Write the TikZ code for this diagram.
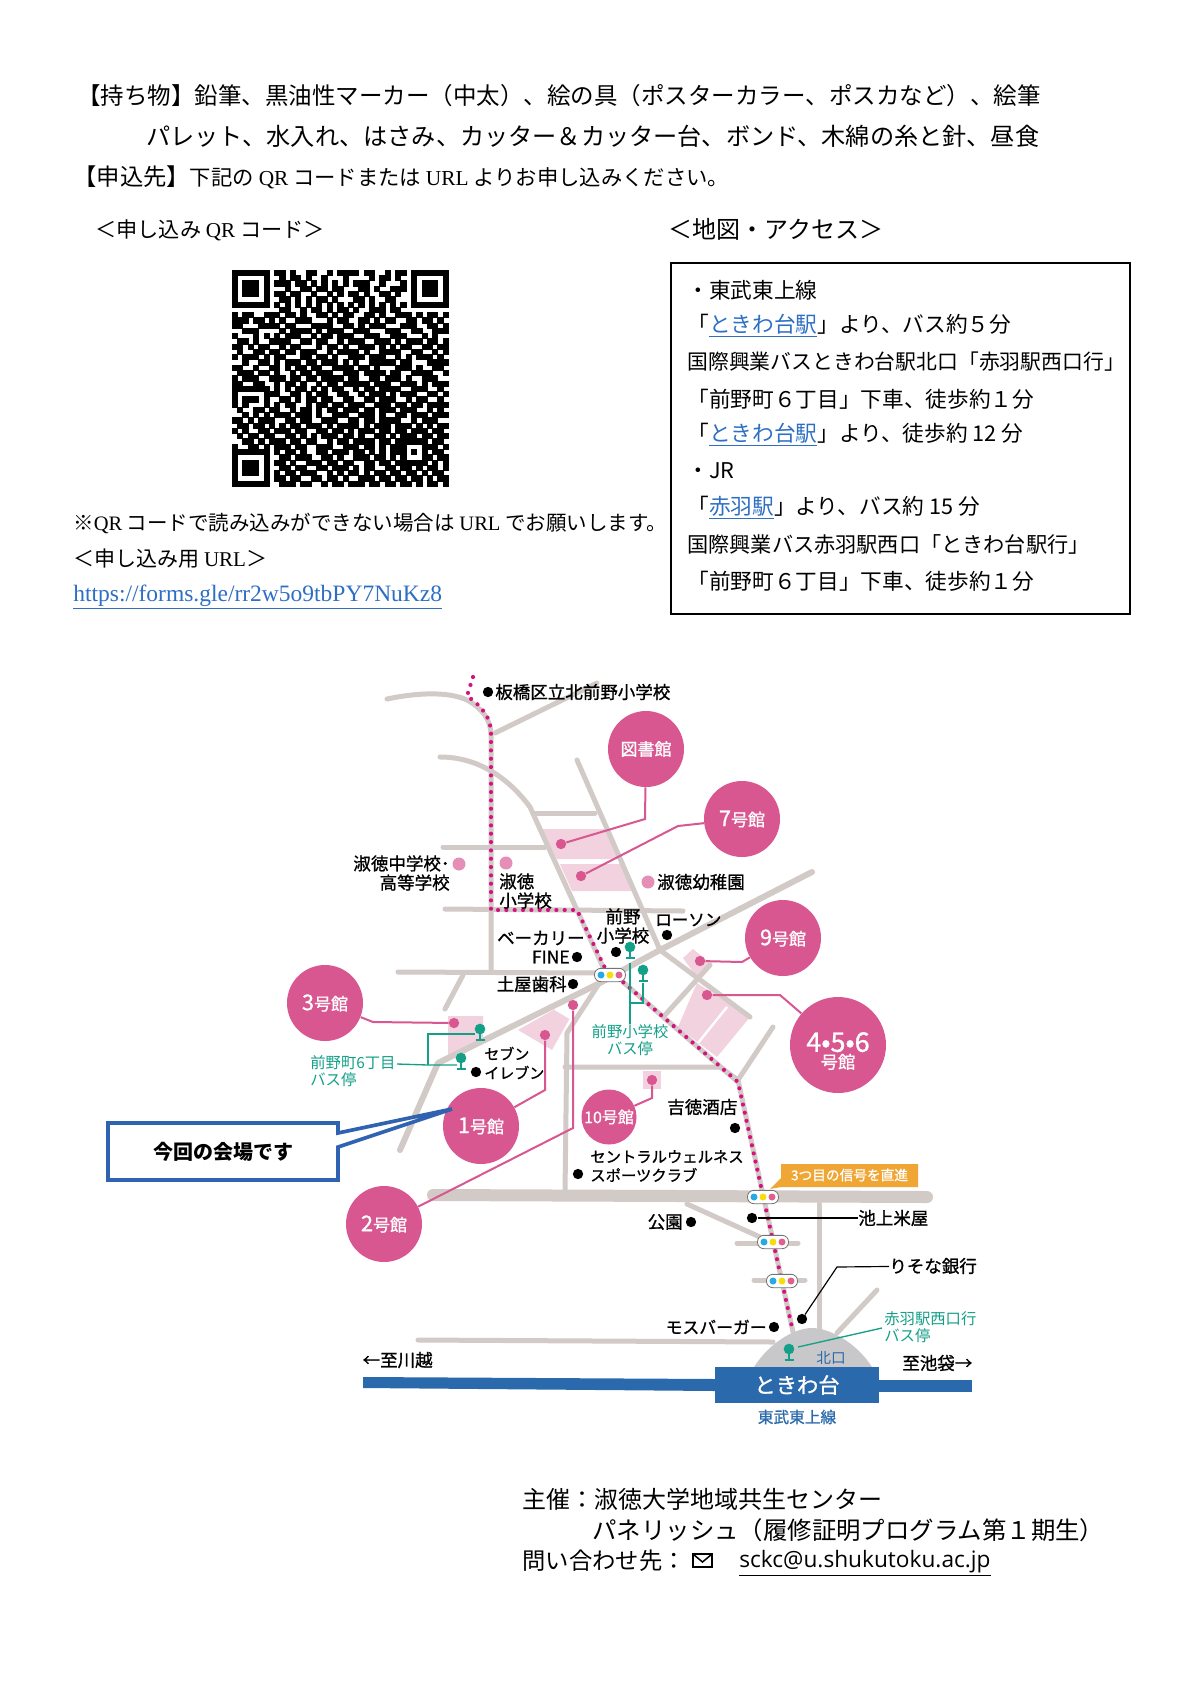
\documentclass[tikz,border=0pt]{standalone}
\usepackage{fontspec}
\setmainfont{Noto Sans CJK JP}
\newfontfamily\ser{Liberation Serif}
\newfontfamily\mailfont{Open Sans}
\newfontfamily\medfont[FakeBold=1]{Noto Sans CJK JP}
\definecolor{roadgrey}{HTML}{D2CAC6}
\definecolor{bldgpink}{HTML}{D95790}
\definecolor{blockpink}{HTML}{F3D2E0}
\definecolor{softpink}{HTML}{E58FB7}
\definecolor{routepink}{HTML}{D5127F}
\definecolor{stopgreen}{HTML}{14A088}
\definecolor{railblue}{HTML}{2A69AC}
\definecolor{calloutblue}{HTML}{2F62B0}
\definecolor{linkblue}{HTML}{2E6FC4}
\definecolor{signote}{HTML}{EFA635}
\definecolor{statgrey}{HTML}{C8C8CA}
\definecolor{sigblue}{HTML}{27A9E1}
\definecolor{sigyellow}{HTML}{F7DC0F}
\definecolor{sigpink}{HTML}{E0608E}
\newcommand\linkword[1]{{\color{linkblue}\underline{#1}}}
\newcount\qrcol
\newcount\qrrow
\newcommand\qrline[1]{\qrcol=0 \qrgo#1.\advance\qrrow by 1 }
\def\qrgo#1{\ifx#1.\else\if#11\filldraw[line width=.1pt] (\the\qrcol,\the\qrrow) rectangle ++(1,1);\fi\advance\qrcol by 1 \expandafter\qrgo\fi}
\tikzset{
 bodytext/.style={anchor=west,inner sep=0pt},
 boxtext/.style={anchor=west,inner sep=0pt,font=\fontsize{13}{15}\selectfont},
 road/.style={draw=roadgrey,line width=3pt,line cap=round,line join=round},
 block/.style={fill=blockpink},
 bldg/.style={circle,fill=bldgpink,inner sep=0pt,minimum size=45.6pt,text=white,align=center,font=\medfont\fontsize{10.2}{11}\selectfont},
 bldgline/.style={draw=bldgpink,line width=1.2pt},
 pdot/.style={circle,fill=bldgpink,inner sep=0pt,minimum size=6.2pt},
 softdot/.style={circle,fill=softpink,inner sep=0pt,minimum size=7.8pt},
 bdot/.style={circle,fill=black,inner sep=0pt,minimum size=6.2pt},
 maplabel/.style={inner sep=0pt,align=left,font=\medfont\fontsize{10.5}{11.5}\selectfont},
 greenlabel/.style={inner sep=0pt,align=left,text=stopgreen,font=\fontsize{9.2}{10.4}\selectfont},
 stophead/.style={circle,fill=stopgreen,inner sep=0pt,minimum size=6.4pt},
 stopline/.style={draw=stopgreen,line width=.8pt},
 signalbox/.style={draw=black!55,fill=white,rounded corners=3.8pt,line width=.5pt,minimum width=18.6pt,minimum height=8pt,inner sep=0pt},
}
\begin{document}
\begin{tikzpicture}[x=0.6pt,y=-0.6pt]
\useasboundingbox (0,0) rectangle (1200,1697);
\fill[white] (0,0) rectangle (1200,1697);
\node (lbring) [bodytext,font=\fontsize{14.1}{17}\selectfont] at (77,96) {【持ち物】鉛筆、黒油性マーカー（中太）、絵の具（ポスターカラー、ポスカなど）、絵筆};
\node (lbring2) [bodytext,font=\fontsize{14.5}{17}\selectfont] at (146,136) {パレット、水入れ、はさみ、カッター＆カッター台、ボンド、木綿の糸と針、昼食};
\node (lapply) [bodytext,font=\fontsize{12.8}{15}\selectfont] at (73,177) {{\fontsize{14}{15}\selectfont 【申込先】}下記の {\ser QR} コードまたは {\ser URL} よりお申し込みください。};
\node (lqr) [bodytext,font=\fontsize{12.7}{15}\selectfont] at (95,230) {＜申し込み {\ser QR} コード＞};
\node (lmap) [bodytext,font=\fontsize{14.4}{17}\selectfont] at (668,229) {＜地図・アクセス＞};
\begin{scope}[shift={(232,270)},x=3.16pt,y=-3.16pt]
\qrrow=0
\qrline{1111111 0 1101001100 1011110110 01011 0 1111111}
\qrline{1000001 0 0101101001 0001000010 11010 0 1000001}
\qrline{1011101 0 1110110101 0101011100 10001 0 1011101}
\qrline{1011101 0 0010011011 0110001101 00111 0 1011101}
\qrline{1011101 0 1101100100 1010110100 11010 0 1011101}
\qrline{1000001 0 0110101011 0100011010 01100 0 1000001}
\qrline{1111111 0 1010101010 1010101010 10101 0 1111111}
\qrline{0000000 0 0110010110 1011010011 10110 0 0000000}
\qrline{1011001110 1101001101 0110011010 0111010110 1}
\qrline{1110110101 0011100010 1100110101 1001101101 0}
\qrline{1100011110 1100011110 0110101110 0011100110 1}
\qrline{0011100001 0111101011 1001110001 1100110011 1}
\qrline{1000101010 1110010110 1110011100 1110001010 0}
\qrline{0110100111 1001101100 1011100111 0101110110 1}
\qrline{1101011001 0110001011 0100111010 1011001101 1}
\qrline{0100110110 1101110010 1111010011 1100110010 1}
\qrline{1011101011 0001101101 0011101110 0101011101 0}
\qrline{0010011010 1110110111 0101001111 1011000111 1}
\qrline{1100100110 1011011001 1110110100 0111010011 0}
\qrline{0111011010 0101101110 0111011110 1100111100 1}
\qrline{1011100111 0110110111 1011001101 1101001110 0}
\qrline{1100110010 1101001011 0111110111 0011101011 1}
\qrline{1111111010 1011010101 1001011011 1100111001 0}
\qrline{1000001110 0110101100 1100101110 1011100110 1}
\qrline{1011101001 1010110110 0110011011 1001011001 0}
\qrline{1010001010 1100101101 1011100111 0110110111 1}
\qrline{0100110110 0101101011 0111011011 1011100101 0}
\qrline{0010101011 1011101001 1100111010 0110111011 1}
\qrline{1101011100 1101100111 0011011011 1100101110 0}
\qrline{0110110101 0110111010 1111010111 0111010101 1}
\qrline{1010011011 1011001101 1010111011 0110111011 0}
\qrline{0101101100 1101010111 0110100110 1011101101 1}
\qrline{0011010111 0110110010 1101111011 01 11111 0110}
\qrline{1001101011 1011001110 0111011010 11 10001 1101}
\qrline{1111111 0 101101001101110110101011 10101 0110}
\qrline{1000001 0 011011100110100111011010 10001 1011}
\qrline{1011101 0 110100111011011001101101 11111 0101}
\qrline{1011101 0 011011001101110101100110 110101101}
\qrline{1011101 0 101101110010101101011011 011010110}
\qrline{1000001 0 110110011011010011101101 101101011}
\qrline{1111111 0 011101100101101110110110 110101101}
\end{scope}
\node (lnote) [bodytext,font=\fontsize{12.3}{14}\selectfont] at (73,523) {※{\ser QR} コードで読み込みができない場合は {\ser URL} でお願いします。};
\node (lurl) [bodytext,font=\fontsize{12.6}{15}\selectfont] at (73,559) {＜申し込み用 {\ser URL}＞};
\node (lurl2) [bodytext,font=\ser\fontsize{14.1}{17}\selectfont] at (73,597) {\linkword{https://forms.gle/rr2w5o9tbPY7NuKz8}};
\draw[line width=1.2pt] (671,263) rectangle (1130,614);
\node (acc1) [boxtext] at (687,290) {・東武東上線};
\node (acc2) [boxtext] at (687,326) {「\linkword{ときわ台駅}」より、バス約５分};
\node (acc3) [boxtext,font=\fontsize{12.5}{15}\selectfont] at (687,362) {国際興業バスときわ台駅北口「赤羽駅西口行」};
\node (acc4) [boxtext] at (687,399) {「前野町６丁目」下車、徒歩約１分};
\node (acc5) [boxtext] at (687,435) {「\linkword{ときわ台駅}」より、徒歩約 12 分};
\node (acc6) [boxtext] at (687,471) {・JR};
\node (acc7) [boxtext] at (687,508) {「\linkword{赤羽駅}」より、バス約 15 分};
\node (acc8) [boxtext,font=\fontsize{12.7}{15}\selectfont] at (687,544) {国際興業バス赤羽駅西口「ときわ台駅行」};
\node (acc9) [boxtext] at (687,581) {「前野町６丁目」下車、徒歩約１分};
\fill[block] (542,829) -- (607,829) -- (618,859) -- (557,859) -- cycle;
\fill[block] (560,864) -- (620,864) -- (632,891) -- (572,891) -- cycle;
\fill[block] (683,958) -- (693,949) -- (710,963) -- (697,977) -- cycle;
\fill[block] (697,983) -- (750,1017) -- (717,1057) -- (678,1027) -- cycle;
\fill[block] (448,1016) -- (483,1016) -- (483,1037) -- (448,1058) -- cycle;
\fill[block] (518,1030) -- (555,1009) -- (570,1018) -- (552,1050) -- cycle;
\fill[block] (643,1071) -- (661,1071) -- (661,1089) -- (643,1089) -- cycle;
\draw[white,line width=1.4pt] (727,1007) -- (698,1043);
\draw[white,line width=1.2pt] (555,1009) -- (570,1018);
\draw[road] (387,699) .. controls (420,692) and (450,692) .. (467,700) .. controls (482,708) and (491,720) .. (491,735) -- (491,970);
\draw[road] (495,733) -- (597,683);
\draw[road] (440,757) .. controls (480,757) and (510,780) .. (530,807) -- (577,910) -- (603,967);
\draw[road] (577,760) -- (660,950) -- (750,1017);
\draw[road] (533,813) -- (595,813);
\draw[road] (443,847) -- (545,847);
\draw[road] (445,909) -- (683,911);
\draw[road] (398,972) -- (600,973);
\draw[road] (463,975) -- (445,1009);
\draw[road,line width=3.6pt] (812,872) -- (660,950) -- (623,970) -- (600,983) -- (438,1063) -- (400,1150);
\draw[road] (665,1015) -- (710,965);
\draw[road] (600,982) -- (567,1033) -- (565,1193);
\draw[road] (565,1067) -- (720,1067) -- (738,1080);
\draw[road] (773,1027) -- (738,1080) -- (793,1332);
\draw[road] (623,982) -- (738,1082);
\draw[road,line width=7.2pt] (433,1195) -- (927,1197);
\draw[road] (687,1204) -- (760,1237);
\draw[road] (737,1243) -- (798,1243);
\draw[road] (754,1280) -- (805,1280);
\draw[road] (819,1204) -- (819,1330);
\draw[road] (877,1290) -- (837,1333);
\draw[road] (418,1340) -- (773,1342);
\fill[statgrey] (754,1367) .. controls (770,1342) and (795,1328) .. (812,1328) .. controls (829,1328) and (856,1342) .. (872,1367) -- cycle;
\fill[railblue] (363,1377) -- (715,1379) -- (715,1391) -- (363,1388) -- cycle;
\fill[railblue] (879,1380) -- (972,1380) -- (972,1392) -- (879,1392) -- cycle;
\node (toki) [fill=railblue,minimum width=98.4pt,minimum height=21.6pt,inner sep=0pt,text=white,font=\medfont\fontsize{12.8}{14}\selectfont] at (797,1385) {ときわ台};
\draw[routepink,line width=2.5pt,line cap=round,dash pattern=on 0pt off 5pt] (473,677) -- (467,696) .. controls (482,706) and (491,718) .. (491,733) -- (491,910) -- (577,910) -- (605,968) -- (623,982) -- (738,1082) -- (793,1332);
\foreach \sn/\sx/\sy in {a/610/975,b/763/1197,c/773/1242,d/782/1281} {
\node (sig\sn) [signalbox] at (\sx,\sy) {};
\fill[sigblue] (sig\sn.center) ++(-9,0) circle (2.1pt);
\fill[sigyellow] (sig\sn.center) circle (2.1pt);
\fill[sigpink] (sig\sn.center) ++(9,0) circle (2.1pt);
}
\node (lib) [bldg] at (646,749) {図書館};
\node (b7) [bldg] at (742,819) {{\fontsize{13}{14}\selectfont 7}号館};
\node (b9) [bldg] at (783,938) {{\fontsize{13}{14}\selectfont 9}号館};
\node (b456) [bldg,minimum size=57.6pt,font=\medfont\fontsize{10.4}{11}\selectfont] at (838,1045) {\rule{0pt}{19pt}{\fontsize{16.2}{18}\selectfont 4•5•6}\\[-1pt]号館};
\node (b3) [bldg] at (325,1003) {{\fontsize{13}{14}\selectfont 3}号館};
\node (b1) [bldg] at (481,1126) {{\fontsize{13}{14}\selectfont 1}号館};
\node (b2) [bldg] at (384,1224) {{\fontsize{13}{14}\selectfont 2}号館};
\node (b10) [bldg,minimum size=33pt,font=\medfont\fontsize{9.6}{10}\selectfont] at (609,1117) {10号館};
\node (dlib) [pdot] at (561,844) {};
\node (d7) [pdot] at (581,876) {};
\node (d9) [pdot] at (700,961) {};
\node (d456) [pdot] at (707,995) {};
\node (d3) [pdot] at (454,1023) {};
\node (d1) [pdot] at (545,1035) {};
\node (d2) [pdot] at (573,1005) {};
\node (d10) [pdot] at (652,1080) {};
\draw[bldgline] (lib) -- (645,819) -- (dlib);
\draw[bldgline] (b7) -- (678,826) -- (d7);
\draw[bldgline] (b9) -- (742,962) -- (d9);
\draw[bldgline] (b456) -- (780,995) -- (d456);
\draw[bldgline] (b3) -- (373,1022) -- (d3);
\draw[bldgline] (b1) -- (545,1090) -- (d1);
\draw[bldgline] (b2) -- (573,1128) -- (d2);
\draw[bldgline] (b10) -- (652,1098) -- (d10);
\node (sjh) [softdot] at (459,864) {};
\node (sel) [softdot] at (506,863) {};
\node (skg) [softdot] at (648,882) {};
\node (ditb) [bdot] at (488,692) {};
\node (dfine) [bdot] at (577,957) {};
\node (dtsu) [bdot] at (573,984) {};
\node (dmae) [bdot] at (616,952) {};
\node (dlaw) [bdot] at (667,935) {};
\node (dsev) [bdot] at (476,1072) {};
\node (dyos) [bdot] at (735,1128) {};
\node (dcen) [bdot] at (578,1174) {};
\node (dpark) [bdot] at (691,1222) {};
\node (dike) [bdot] at (752,1218) {};
\node (dris) [bdot] at (802,1319) {};
\node (dmos) [bdot] at (774,1327) {};
\node (litb) [maplabel,anchor=west] at (495,692) {板橋区立北前野小学校};
\node (lsjh) [maplabel,anchor=east,align=right] at (450,873) {淑徳中学校･\\高等学校};
\node (lsel) [maplabel,anchor=west] at (499,891) {淑徳\\小学校};
\node (lskg) [maplabel,anchor=west] at (657,882) {淑徳幼稚園};
\node (lmae) [maplabel,align=center] at (623,926) {前野\\小学校};
\node (llaw) [maplabel,anchor=west,font=\medfont\fontsize{9.9}{11.5}\selectfont] at (655,920) {ローソン};
\node (lbak) [maplabel,anchor=east] at (585,938) {ベーカリー};
\node (lfin) [maplabel,anchor=east] at (570,957) {FINE};
\node (ltsu) [maplabel,anchor=east] at (567,984) {土屋歯科};
\node (lsev) [maplabel,anchor=west,font=\medfont\fontsize{9}{11.4}\selectfont] at (484,1063) {セブン\\イレブン};
\node (lyos) [maplabel,anchor=west] at (667,1107) {吉徳酒店};
\node (lcen) [maplabel,anchor=west,font=\medfont\fontsize{9.2}{11.2}\selectfont] at (590,1166) {セントラルウェルネス\\スポーツクラブ};
\node (lpark) [maplabel,anchor=east] at (683,1222) {公園};
\node (like) [maplabel,anchor=west] at (858,1218) {池上米屋};
\node (lris) [maplabel,anchor=west] at (889,1266) {りそな銀行};
\node (lmos) [maplabel,anchor=east,font=\medfont\fontsize{10.1}{11.5}\selectfont] at (767,1327) {モスバーガー};
\node (lkaw) [maplabel,anchor=east] at (433,1360) {←至川越};
\node (lbuk) [maplabel,anchor=west] at (902,1363) {至池袋→};
\node (lnor) [inner sep=0pt,text=railblue,font=\fontsize{8.8}{10}\selectfont] at (831,1358) {北口};
\node (ltob) [inner sep=0pt,text=railblue,font=\medfont\fontsize{9.4}{10}\selectfont] at (797,1417) {東武東上線};
\foreach \bn/\bx/\by in {a/630/947,b/643/970,c/480/1029,d/461/1058,e/789/1349} {
\node (stop\bn) [stophead] at (\bx,\by) {};
\draw[stopline] (stop\bn.center) -- ++(0,11) ++(-4.5,0) -- ++(9,0);
}
\node (lgmae) [greenlabel,align=center] at (630,1040) {前野小学校\\バス停};
\node (lgcho) [greenlabel,anchor=west] at (310,1071) {前野町6丁目\\バス停};
\node (lgaka) [greenlabel,anchor=west] at (884,1327) {赤羽駅西口行\\バス停};
\coordinate (gmaeup) at (630,963);
\coordinate (gmaejn) at (630,1003);
\draw[stopline] (gmaeup) -- (lgmae.north -| gmaeup);
\draw[stopline] (gmaejn) -- (643,1003) -- (643,983);
\coordinate (gchojn) at (428,1065);
\draw[stopline] (397,1064) -- (gchojn) -- (457,1065);
\draw[stopline] (gchojn) -- (428,1034) -- (475,1034);
\draw[stopline] (798,1347) -- (882,1328);
\draw[line width=.7pt] (dike) -- (like);
\draw[line width=.7pt] (dris) -- (837,1267) -- (lris);
\draw[fill=signote,draw=none] (781,1164) -- (918,1164) -- (918,1187) -- (781,1187) -- (770,1189) -- (781,1178) -- cycle;
\node (lnote3) [inner sep=0pt,text=white,font=\medfont\fontsize{8.2}{10}\selectfont] at (849.5,1175) {3つ目の信号を直進};
\draw[calloutblue,fill=white,line width=2.2pt] (338,1133) -- (452,1109) -- (338,1147) -- (338,1180) -- (108,1180) -- (108,1123) -- (338,1123) -- cycle;
\node (lhere) [inner sep=0pt,font=\bfseries\fontsize{12}{14}\selectfont] at (223,1152) {今回の会場です};
\node (lorg) [bodytext,font=\fontsize{14.4}{17}\selectfont] at (522,1499) {主催：淑徳大学地域共生センター};
\node (lorg2) [bodytext,font=\fontsize{14.65}{17}\selectfont] at (592,1530) {パネリッシュ（履修証明プログラム第１期生）};
\node (lask) [bodytext,font=\fontsize{14}{17}\selectfont] at (522,1561) {問い合わせ先：};
\draw[line width=.9pt] (693,1554) rectangle (712,1567);
\draw[line width=.9pt] (693,1554) -- (702.5,1562) -- (712,1554);
\node (lmail) [bodytext,font=\mailfont\fontsize{13.6}{16}\selectfont] at (739,1563) {\underline{sckc@u.shukutoku.ac.jp}};
\end{tikzpicture}
\end{document}
